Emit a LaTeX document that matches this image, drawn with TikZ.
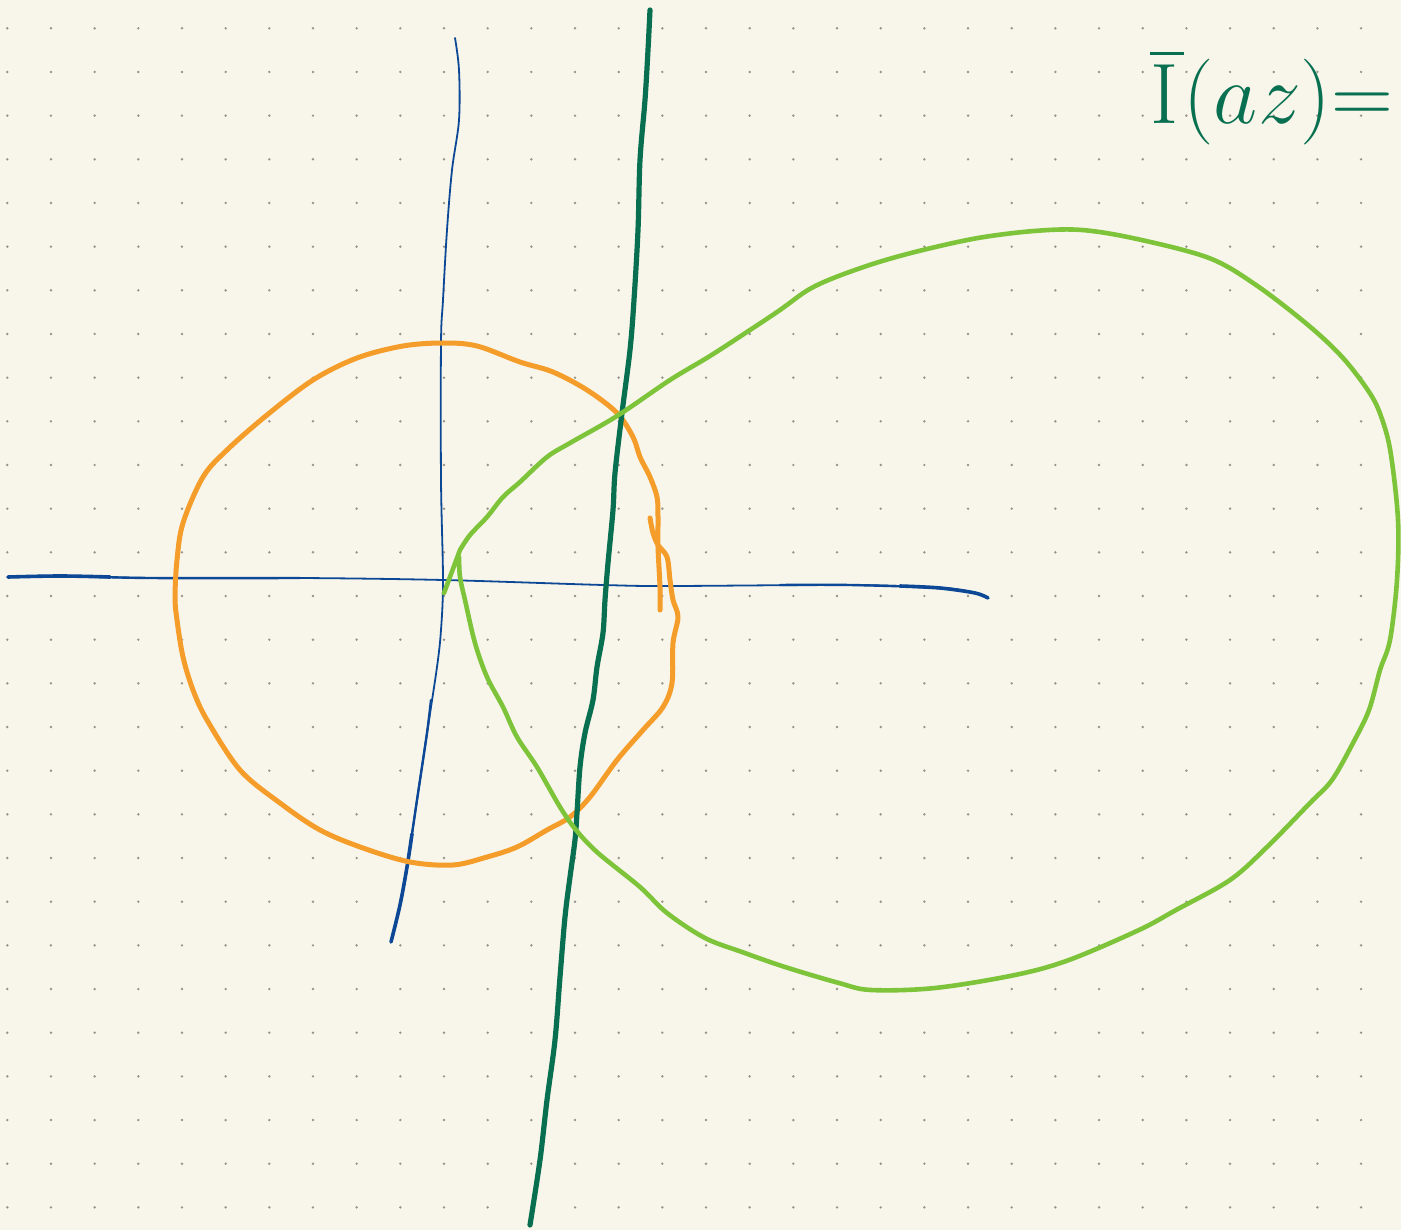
\documentclass[tikz,border=0pt]{standalone}
\usepackage{amsmath,amssymb}
\usepackage{xcolor}
\usetikzlibrary{positioning}
\definecolor{paper}{RGB}{248,246,234}
\definecolor{dotgray}{RGB}{150,148,140}
\definecolor{axisblue}{RGB}{12,72,150}
\definecolor{inkgreen}{RGB}{8,112,80}
\definecolor{circorange}{RGB}{245,157,42}
\definecolor{loopgreen}{RGB}{126,196,58}

\begin{document}
\begin{tikzpicture}[x=1pt,y=-1pt,line cap=round,line join=round,
  pen/.style={smooth,tension=0.55},
  axisline/.style={draw=axisblue,line width=1.8pt},
  midaxis/.style={draw=axisblue,line width=2.4pt},
  thickaxis/.style={draw=axisblue,line width=3.6pt}]
\fill[paper] (0,0) rectangle (1401,1230);
\useasboundingbox (0,0) rectangle (1401,1230);
% dot grid of the page
\foreach \i in {0,...,31}
  \foreach \j in {0,...,27}
    \fill[dotgray] ({7.3+43.67*\i},{28.3+43.67*\j}) circle (1.35pt);

% axes
\draw[axisline] plot[pen] coordinates {(8,577) (60,576) (150,578) (300,578) (443,580)
  (603,585) (670,586) (850,585) (940,588) (975,593) (988,598)};
\draw[midaxis] plot[pen] coordinates {(8,577) (60,576) (150,578) (300,578)};
\draw[thickaxis] plot[pen] coordinates {(8,577) (60,576) (110,577)};
\draw[midaxis] plot[pen] coordinates {(780,585) (850,585) (940,588) (975,593) (988,598)};
\draw[thickaxis] plot[pen] coordinates {(900,586) (940,588) (975,593) (988,598)};
\draw[axisline] plot[pen] coordinates {(455,38) (459,70) (459,120) (452,170) (447,230)
  (443,300) (441,343) (441,480) (443,580) (441,630) (437,667) (427,733) (417,800)
  (407,867) (400,905) (391,942)};
\draw[midaxis] plot[pen] coordinates {(431,700) (427,733) (417,800) (407,867) (400,905) (391,942)};
\draw[thickaxis] plot[pen] coordinates {(412,834) (407,867) (400,905) (391,942)};

% the circle
\draw[circorange,line width=5pt] plot[pen] coordinates {(650,518) (653,533) (658,545)
  (667,557) (670,580) (673,600) (678,617) (673,643) (672,683) (663,707) (643,730)
  (617,760) (590,797) (570,817) (547,830) (517,847) (487,857) (453,865) (410,862)
  (363,848) (320,830) (280,803) (240,770) (207,720) (193,690) (183,657) (177,620)
  (175,597) (177,560) (183,523) (203,477) (227,450) (267,415) (313,380) (357,358)
  (403,346) (443,343) (477,346) (520,362) (553,372) (587,390) (617,413) (633,437)
  (640,457) (650,477) (657,497) (658,517) (658,547) (660,587) (660,610)};

% the shifted line
\draw[inkgreen,line width=5.2pt] plot[pen] coordinates {(650,10) (648,50) (645,100)
  (640,160) (638,230) (634,300) (630,350) (622,413) (615,473) (613,510) (608,563)
  (605,600) (603,633) (597,667) (593,700) (585,733) (580,767) (577,813) (575,840)
  (570,877) (565,917) (560,977) (555,1040) (547,1100) (540,1160) (530,1225)};

% the image loop
\draw[loopgreen,line width=4.6pt] (444,593) -- (460,550)
  plot[pen] coordinates {(460,550) (470,535) (487,517) (503,497) (520,482) (547,457)
  (570,443) (617,416) (670,380) (710,356) (750,330) (780,310) (808,290) (836,277)
  (879,262) (923,250) (978,238) (1034,231) (1082,230) (1137,239) (1209,258)
  (1256,285) (1308,325) (1343,358) (1371,395) (1383,422) (1391,455) (1398,520)
  (1397,580) (1390,640) (1380,670) (1369,710) (1353,743) (1332,780) (1310,803)
  (1267,847) (1230,880) (1176,910) (1139,930) (1069,960) (1015,975) (935,988)
  (871,990) (839,983) (785,967) (742,952) (705,938) (667,913) (640,887) (598,853)
  (576,830) (560,807) (537,767) (517,737) (503,707) (487,677) (475,643) (465,600)
  (460,577) (459,557)};

\node[anchor=base west,text=inkgreen,inner sep=0pt,font=\Huge] (ibar) at (1150,124)
  {\scalebox{3.45}{$\overline{\mathrm{I}\kern1.5pt}(az){=}$}};
\end{tikzpicture}
\end{document}
